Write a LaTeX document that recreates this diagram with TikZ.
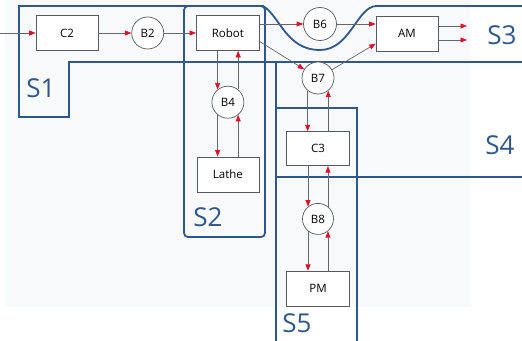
\documentclass[tikz,border=0pt]{standalone}
\usepackage{fontspec}
\setmainfont{Open Sans}
\usetikzlibrary{positioning,arrows.meta}
\definecolor{zoneblue}{RGB}{46,88,140}
\definecolor{tipred}{RGB}{222,16,40}
\definecolor{bggray}{RGB}{248,249,250}

\begin{document}
\begin{tikzpicture}[
  x=1pt, y=-1pt,
  >={Triangle[length=6.5pt, width=5pt, color=tipred]},
  blk/.style={draw=black!65, fill=white, line width=0.7pt, minimum width=62pt, minimum height=35pt, inner sep=0pt, font=\fontsize{11.5}{13}\selectfont},
  buf/.style={draw=black!65, fill=white, circle, line width=0.7pt, minimum size=32pt, inner sep=0pt, font=\fontsize{11.5}{13}\selectfont},
  flow/.style={->, draw=black!60, line width=0.7pt},
  zone/.style={draw=zoneblue, line width=1.8pt},
  zlabel/.style={text=zoneblue, font=\fontsize{26}{30}\selectfont, inner sep=0pt}
]
  \useasboundingbox (0,0) rectangle (522,340);
  \clip (0,0) rectangle (522,340);
  \fill[bggray] (5,0) rectangle (470,307);

  % zones
  \draw[zone] (19,117) -- (19,6) -- (263,6) .. controls (280,16) and (286,50) .. (320,50)
    .. controls (350,50) and (357,7) .. (376,6) -- (540,6) -- (540,62) -- (69,62) -- (69,117) -- cycle;
  \draw[zone, rounded corners=4pt] (184,6) rectangle (265,237);
  \draw[zone] (276,62) rectangle (540,177);
  \draw[zone] (276,108) rectangle (357,360);

  \node[zlabel] (s1) at (41,88) {S1};
  \node[zlabel] (s2) at (208,217) {S2};
  \node[zlabel] (s3) at (502,35) {S3};
  \node[zlabel] (s4) at (500,145) {S4};
  \node[zlabel] (s5) at (297,323) {S5};

  % machines and buffers
  \node[blk] (c2) at (67,33) {C2};
  \node[buf, right=33pt of c2] (b2) {B2};
  \node[blk, right=32pt of b2, minimum width=63pt] (robot) {Robot};
  \node[buf, below=35pt of robot] (b4) {B4};
  \node[blk, below=38pt of b4] (lathe) {Lathe};
  \node[buf, minimum size=33pt] (b6) at (320,24) {B6};
  \node[blk] (am) at (407,33.5) {AM};
  \node[buf] (b7) at (318,78) {B7};
  \node[blk, below=37pt of b7, minimum width=63pt, minimum height=34pt] (c3) {C3};
  \node[buf, minimum size=31pt, below=37pt of c3] (b8) {B8};
  \node[blk, below=36pt of b8, minimum width=63pt] (pm) {PM};

  \coordinate (src) at (0,33);
  \coordinate (out1) at (467,26);
  \coordinate (out2) at (467,40);

  % material flow
  \draw[flow] (src) -- (c2);
  \draw[flow] (c2) -- (b2);
  \draw[flow] (b2) -- (robot);
  \draw[flow] (robot.east |- b6.west) -- (b6.west);
  \draw[flow] (b6.east) -- (b6.east -| am.west);
  \draw[flow] (am.east |- out1) -- (out1);
  \draw[flow] (am.east |- out2) -- (out2);
  \draw[flow] (robot.-15) -- (b7);
  \draw[flow] (b7) -- (am.198);
  \draw[flow] (b4.129 |- robot.south) -- (b4.129);
  \draw[flow] (b4.51) -- (b4.51 |- robot.south);
  \draw[flow] (b4.231) -- (b4.231 |- lathe.north);
  \draw[flow] (b4.309 |- lathe.north) -- (b4.309);
  \draw[flow] (b7.231) -- (b7.231 |- c3.north);
  \draw[flow] (b7.309 |- c3.north) -- (b7.309);
  \draw[flow] (b8.129 |- c3.south) -- (b8.129);
  \draw[flow] (b8.51) -- (b8.51 |- c3.south);
  \draw[flow] (b8.231) -- (b8.231 |- pm.north);
  \draw[flow] (b8.309 |- pm.north) -- (b8.309);
\end{tikzpicture}
\end{document}
